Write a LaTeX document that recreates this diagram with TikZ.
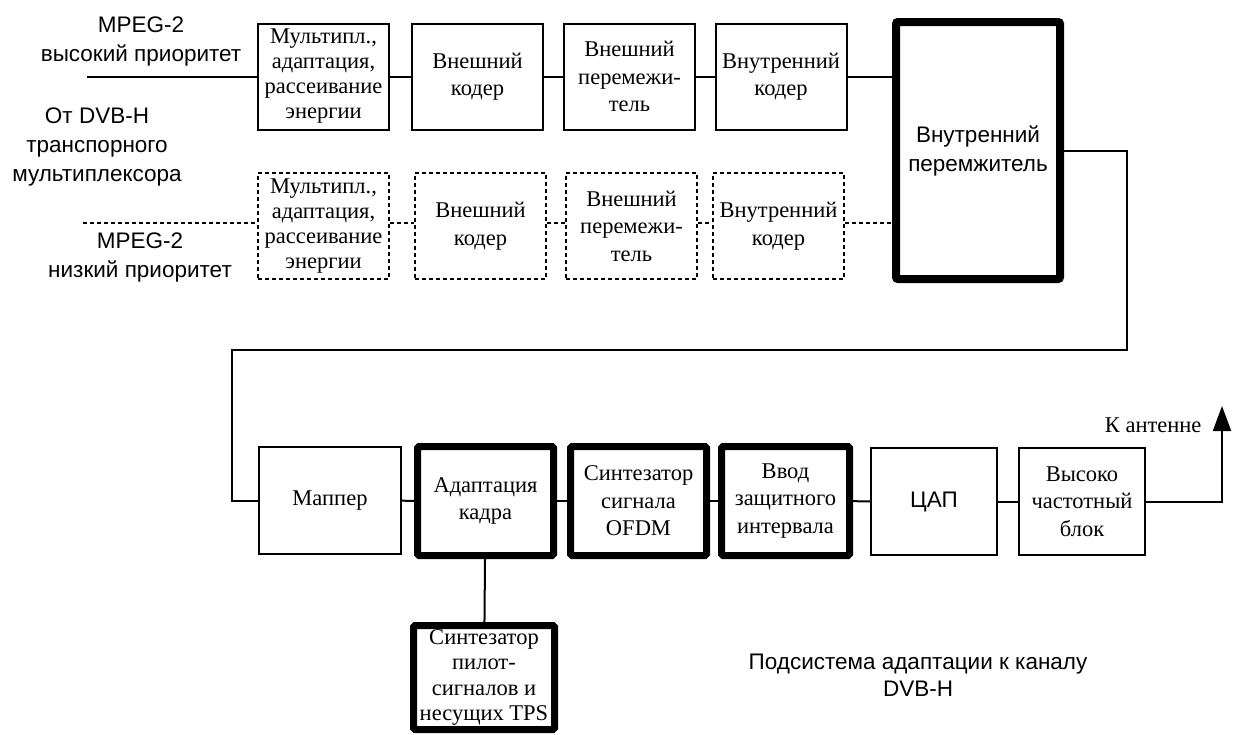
\documentclass[tikz,border=0pt]{standalone}
\usepackage{fontspec}
\setmainfont{Liberation Serif}
\setsansfont{Liberation Sans}
\usepackage{tikz}
\usetikzlibrary{positioning,calc,arrows.meta}

\newcommand{\blockfont}{\fontsize{22.5}{27.5}\selectfont}
\newcommand{\labelfont}{\sffamily\fontsize{22.5}{29}\selectfont}

\tikzstyle{line} = [line width=2pt]
\tikzstyle{dline} = [line, dash pattern=on 4pt off 3pt]
\tikzstyle{block} = [draw, line width=2pt, minimum width=131pt, minimum height=106pt, inner sep=1pt, align=center, font=\blockfont]
\tikzstyle{dblock} = [block, dash pattern=on 4pt off 3pt]
\tikzstyle{bblock} = [block, line width=7pt, rounded corners=1.5pt, minimum width=136pt, minimum height=109pt]
\tikzstyle{lbl} = [align=center, font=\labelfont]

\begin{document}
\begin{tikzpicture}[x=1pt,y=-1pt]
	\useasboundingbox (0,0) rectangle (1234,734);

	% Hoher Prioritaet
	\node[block, font=\fontsize{22.5}{25}\selectfont] (mux) at (323.5,76.5) {Мультипл.,\\адаптация,\\рассеивание\\энергии};
	\node[block] (oenc) at (477.5,76.5) {Внешний\\кодер};
	\node[block] (oint) at (629.5,76.5) {Внешний\\перемежи-\\тель};
	\node[block] (ienc) at (781,76.5) {Внутренний\\кодер};
	\node[block, line width=8pt, rounded corners=2pt, minimum width=164pt, minimum height=257pt, font=\labelfont] (iint) at (978,150.5) {Внутренний\\перемжитель};

	\coordinate (inhi) at (87,76.5);
	\draw[line] (inhi) -- (mux.west);
	\draw[line] (mux) -- (oenc);
	\draw[line] (oenc) -- (oint);
	\draw[line] (oint) -- (ienc);
	\draw[line] (ienc.east) -- (ienc.east -| iint.west);

	% Niedriger Prioritaet
	\node[dblock, font=\fontsize{22.5}{25}\selectfont] (muxd) at (323.5,226) {Мультипл.,\\адаптация,\\рассеивание\\энергии};
	\node[dblock] (oencd) at (480.5,226) {Внешний\\кодер};
	\node[dblock] (ointd) at (631.5,226) {Внешний\\перемежи-\\тель};
	\node[dblock] (iencd) at (778.5,226) {Внутренний\\кодер};

	\coordinate (inlo) at (83,223);
	\draw[dline] (inlo) -- (inlo -| muxd.west);
	\draw[dline] (muxd.east |- inlo) -- (oencd.west |- inlo);
	\draw[dline] (oencd.east |- inlo) -- (ointd.west |- inlo);
	\draw[dline] (ointd.east |- inlo) -- (iencd.west |- inlo);
	\draw[dline] (iencd.east |- inlo) -- (iint.west |- inlo);

	% Beschriftung links
	\node[lbl] (hi) at (141,41) {MPEG-2\\высокий приоритет};
	\node[lbl] (src) at (97,147) {От DVB-H\\транспорного\\мультиплексора};
	\node[lbl] (lo) at (140,257.5) {MPEG-2\\низкий приоритет};

	% Untere Zeile
	\node[block, minimum width=142pt, minimum height=107pt] (map) at (330,500.5) {Маппер};
	\node[bblock] (frame) at (485.5,501) {Адаптация\\кадра};
	\node[bblock] (ofdm) at (638.5,501) {Синтезатор\\сигнала\\OFDM};
	\node[bblock, minimum width=128pt] (guard) at (785.5,501) {Ввод\\защитного\\интервала};
	\node[block, minimum width=126pt, minimum height=107pt, font=\labelfont] (dac) at (934,501.5) {ЦАП};
	\node[block, minimum width=126pt, minimum height=107pt] (rf) at (1082,501.5) {Высоко\\частотный\\блок};
	\node[bblock, minimum width=141pt, minimum height=104pt, font=\fontsize{22.5}{25.5}\selectfont] (pilot) at (484,677.5) {Синтезатор\\пилот-\\сигналов и\\несущих TPS};

	\coordinate (kn1) at (1127,350);
	\coordinate (kn2) at (232,350);
	\coordinate (ant) at (1222,406);
	\draw[line] (iint.east) -| (kn1) -- (kn2) |- (map.west);
	\draw[line] (map) -- (frame);
	\draw[line] (frame) -- (ofdm);
	\draw[line] (ofdm) -- (guard);
	\draw[line] (guard) -- (dac);
	\draw[line] (dac) -- (rf);
	\draw[line, -{Triangle[length=25pt,width=18pt]}] (rf.east) -| (ant);
	\draw[line] (frame) -- (pilot);

	\node[font=\blockfont, anchor=east] (antlbl) at (1205,425) {К антенне};
	\node[lbl, font=\sffamily\fontsize{22.5}{27}\selectfont] (title) at (918,675) {Подсистема адаптации к каналу\\DVB-H};
\end{tikzpicture}
\end{document}
